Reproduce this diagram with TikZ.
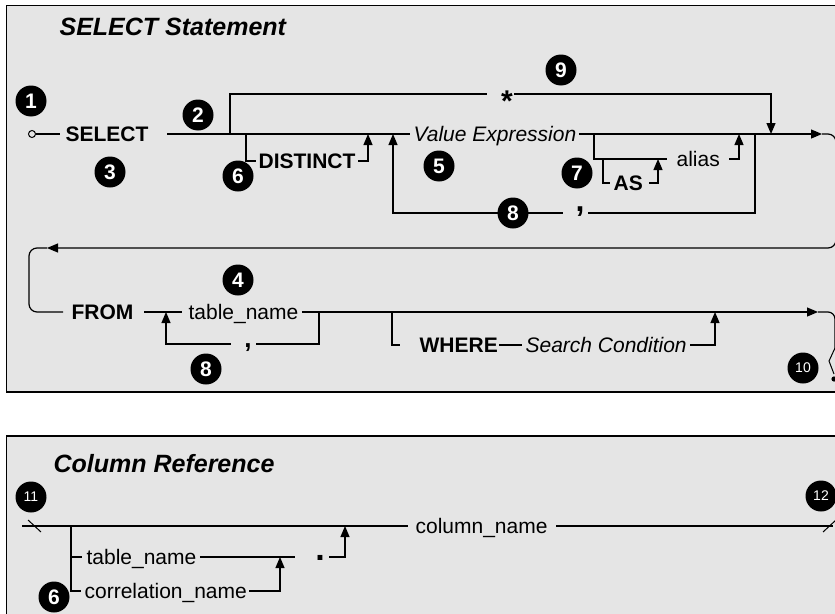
\documentclass[tikz,border=0pt]{standalone}
\usepackage{fontspec}
\setmainfont{Liberation Sans}
\usetikzlibrary{arrows.meta}
\definecolor{panelgray}{HTML}{E5E5E5}

\begin{document}
\begin{tikzpicture}[x=1pt, y=-1pt, line width=1.2pt,
  lbl/.style={inner sep=0pt, text height=15pt, text depth=0pt, anchor=west},
  kw/.style={lbl, font=\fontsize{21}{21}\selectfont\bfseries},
  nm/.style={lbl, font=\fontsize{21}{21}\selectfont},
  ex/.style={lbl, font=\fontsize{21}{21}\selectfont\itshape},
  sym/.style={inner sep=0pt, anchor=base, text height=5pt, text depth=5pt,
              font=\fontsize{32}{32}\selectfont\bfseries},
  ttl/.style={inner sep=0pt, anchor=base west, font=\fontsize{25}{25}\selectfont\bfseries\itshape},
  num/.style={circle, fill=black, draw=none, minimum size=31pt, inner sep=0pt,
              text=white, font=\fontsize{21}{21}\selectfont\bfseries},
  numsm/.style={num, font=\fontsize{14}{14}\selectfont},
  tip/.style={-{Triangle[length=11pt,width=9pt]}},
  panel/.style={fill=panelgray, draw=black, line width=1.2pt}]

\useasboundingbox (0,0) rectangle (835,613);

% ---------- panels ----------
\path[panel] (6.5,5.5) rectangle (850,392);
\path[panel] (6.5,436) rectangle (850,630);

% ================= SELECT statement =================
\node[ttl] (t1) at (59,35) {SELECT Statement};

\node[circle, draw, fill=panelgray, minimum size=7pt, inner sep=0pt, line width=1pt] (start) at (32,134) {};
\node[kw] (select) at (65,134) {SELECT};
\node[ex] (valexp) at (413,134) {Value Expression};
\node[kw] (distinct) at (258,161) {DISTINCT};
\node[inner sep=0pt, anchor=base, text height=11pt, text depth=0pt,
      font=\fontsize{30}{30}\selectfont\bfseries] (star) at (507,111) {*};
\node[nm] (alias) at (676,159) {alias};
\node[kw] (as) at (613,183) {AS};
\node[sym] (c1) at (580,211) {,};

\coordinate (m-star) at (230,134);
\coordinate (m-dist) at (246,134);
\coordinate (m-dret) at (368,134);
\coordinate (m-loop) at (393,134);
\coordinate (m-as) at (594,134);
\coordinate (as-j) at (603,159);
\coordinate (as-ret) at (658,159);
\coordinate (m-alret) at (739,134);
\coordinate (m-cret) at (755,134);
\coordinate (m-sret) at (771,134);
\coordinate (m-end) at (822,134);
\coordinate (s-l) at (487,94);
\coordinate (s-r) at (514,94);
\coordinate (ret-arr) at (47,248);

\draw (start) -- ([xshift=-5pt]select.west);
\draw ([xshift=18pt]select.east) -- ([xshift=-3pt]valexp.west);
\draw[tip] ([xshift=2pt]valexp.east) -- (m-end);

% asterisk branch
\draw (m-star) |- (s-l);
\draw[tip] (s-r) -| (m-sret);

% DISTINCT branch
\draw (m-dist) |- ([xshift=-2pt]distinct.west);
\draw[tip] ([xshift=2pt]distinct.east) -| (m-dret);

% alias branch
\draw (m-as) |- ([xshift=-9pt]alias.west);
\draw[tip] ([xshift=9pt]alias.east) -| (m-alret);
\draw (as-j) |- ([xshift=-3pt]as.west);
\draw[tip] ([xshift=6pt]as.east) -| (as-ret);

% repeat loop with comma
\draw (m-cret) |- ([xshift=3pt]c1.east |- 0,213);
\draw[tip] ([xshift=-12pt]c1.west |- 0,213) -| (m-loop);

% continuation to the FROM row
\draw[tip, rounded corners=8pt] (m-end) -- (836,134) -- (836,248) -- (ret-arr);

% FROM row
\node[kw] (from) at (71,312) {FROM};
\node[nm] (tn) at (188,312) {table\_name};
\node[sym, font=\fontsize{26}{26}\selectfont\bfseries] (c2) at (248,347) {,};
\node[kw] (where) at (419,345) {WHERE};
\node[ex] (sc) at (525,345) {Search Condition};

\coordinate (r2-loop) at (166,312);
\coordinate (r2-cj) at (319,312);
\coordinate (w-j) at (392,312);
\coordinate (w-ret) at (715,312);
\coordinate (r2-end) at (818,312);

\draw[rounded corners=8pt] (ret-arr) -- (29,248) -- (29,312) -- ([xshift=-8pt]from.west);
\draw ([xshift=10pt]from.east) -- ([xshift=-6pt]tn.west);
\draw (r2-cj) |- ([xshift=4pt]c2.east |- 0,344);
\draw[tip] ([xshift=-13pt]c2.west |- 0,344) -| (r2-loop);
\draw[tip] ([xshift=3pt]tn.east) -- (r2-end);
\draw (w-j) |- ([xshift=-19pt]where.west);
\draw ([xshift=1pt]where.east) -- ([xshift=-3pt]sc.west);
\draw[tip] ([xshift=3pt]sc.east) -| (w-ret);

% end of statement
\draw[rounded corners=7pt] (r2-end) -- (835,312) -- (835,348);
\draw[line width=1pt] (835,348) -- (829,361) -- (834,374);
\fill (834,379) circle (2.6pt);

% callouts
\node[num] (n1) at (31,101) {1};
\node[num] (n2) at (198,115) {2};
\node[num] (n3) at (110,172) {3};
\node[num] (n4) at (238,280) {4};
\node[num] (n5) at (439,166) {5};
\node[num] (n6) at (238,176) {6};
\node[num] (n7) at (577,173) {7};
\node[num] (n8) at (513,213) {8};
\node[num] (n8b) at (206,369) {8};
\node[num] (n9) at (561,70) {9};
\node[numsm] (n10) at (803,368) {10};

% ================= Column reference =================
\node[ttl] (t2) at (53,472) {Column Reference};

\node[nm] (col) at (415,526) {column\_name};
\node[nm] (tn2) at (86,557) {table\_name};
\node[nm] (corr) at (84,591) {correlation\_name};
\node[inner sep=0pt, anchor=base, text height=5pt, text depth=0pt,
      font=\fontsize{34}{34}\selectfont\bfseries] (dot) at (320,560) {.};

\coordinate (c-start) at (22,526);
\coordinate (c-br) at (71,526);
\coordinate (c-tj) at (71,557);
\coordinate (c-dret) at (345,526);
\coordinate (c-cret) at (280,557);
\coordinate (c-end) at (833,526);

\draw (c-start) -- ([xshift=-7pt]col.west);
\draw ([xshift=8pt]col.east) -- (c-end);
\draw[line width=1pt] (28,520) -- (41,532);
\draw[line width=1pt] (823,532) -- (836,520);
\draw (c-br) |- ([xshift=-3pt]corr.west);
\draw (c-tj) -- ([xshift=-4pt]tn2.west);
\draw ([xshift=3pt]tn2.east) -- ([xshift=-20pt]dot.west |- 0,557);
\draw[tip] ([xshift=4pt]dot.east |- 0,557) -| (c-dret);
\draw[tip] ([xshift=2pt]corr.east) -| (c-cret);

\node[numsm] (n11) at (31,497) {11};
\node[numsm] (n12) at (821,496) {12};
\node[num] (n6b) at (54,597) {6};
\end{tikzpicture}
\end{document}
